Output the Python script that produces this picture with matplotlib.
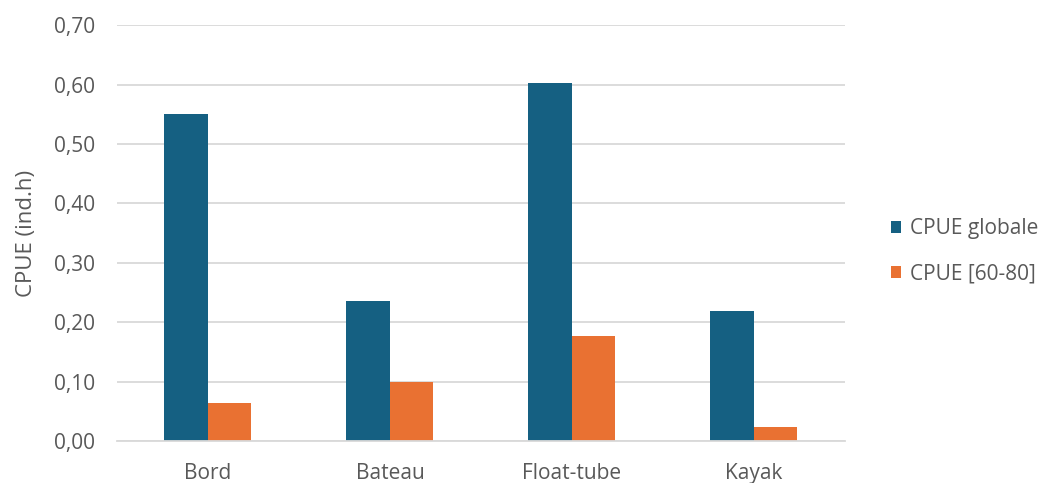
import matplotlib

matplotlib.use("Agg")
import matplotlib.pyplot as plt
import numpy as np
from matplotlib.ticker import FuncFormatter

plt.rcParams["font.family"] = ["Open Sans", "DejaVu Sans"]

categories = ["Bord", "Bateau", "Float-tube", "Kayak"]
cpue_globale = [0.551, 0.236, 0.602, 0.218]
cpue_60_80 = [0.064, 0.099, 0.177, 0.024]
series_labels = ["CPUE globale", "CPUE [60-80]"]

BLUE = "#156082"
ORANGE = "#E97132"
TEXT = "#595959"
GRID = "#D9D9D9"

fig = plt.figure(figsize=(10.38, 4.83), dpi=100)
ax = fig.add_axes([0.1127, 0.087, 0.7013, 0.861])

x = np.arange(len(categories))
width = 0.239
ax.bar(x - width / 2, cpue_globale, width, color=BLUE, label=series_labels[0])
ax.bar(x + width / 2, cpue_60_80, width, color=ORANGE, label=series_labels[1])

ax.set_xlim(-0.5, len(categories) - 0.5)
ax.set_ylim(0, 0.70)
ax.set_yticks(np.arange(0, 0.71, 0.10))
ax.yaxis.set_major_formatter(FuncFormatter(lambda v, _: f"{v:.2f}".replace(".", ",")))
ax.set_xticks(x)
ax.set_xticklabels(categories)

ax.grid(True, axis="y", color=GRID, linewidth=1.3)
ax.set_axisbelow(True)
for side in ("top", "right", "left"):
    ax.spines[side].set_visible(False)
ax.spines["bottom"].set_color(GRID)
ax.spines["bottom"].set_linewidth(1.3)
ax.tick_params(axis="both", length=0, colors=TEXT, labelsize=15)
ax.tick_params(axis="x", pad=16)
ax.tick_params(axis="y", pad=16)

ax.set_ylabel("CPUE (ind.h)", color=TEXT, fontsize=16, labelpad=12)

leg = fig.legend(
    loc="center left",
    bbox_to_anchor=(0.84, 0.48),
    frameon=False,
    fontsize=15,
    handlelength=0.5,
    handleheight=0.5,
    handletextpad=0.45,
    labelspacing=1.15,
)
for t in leg.get_texts():
    t.set_color(TEXT)

fig.savefig("out.png", dpi=100)
